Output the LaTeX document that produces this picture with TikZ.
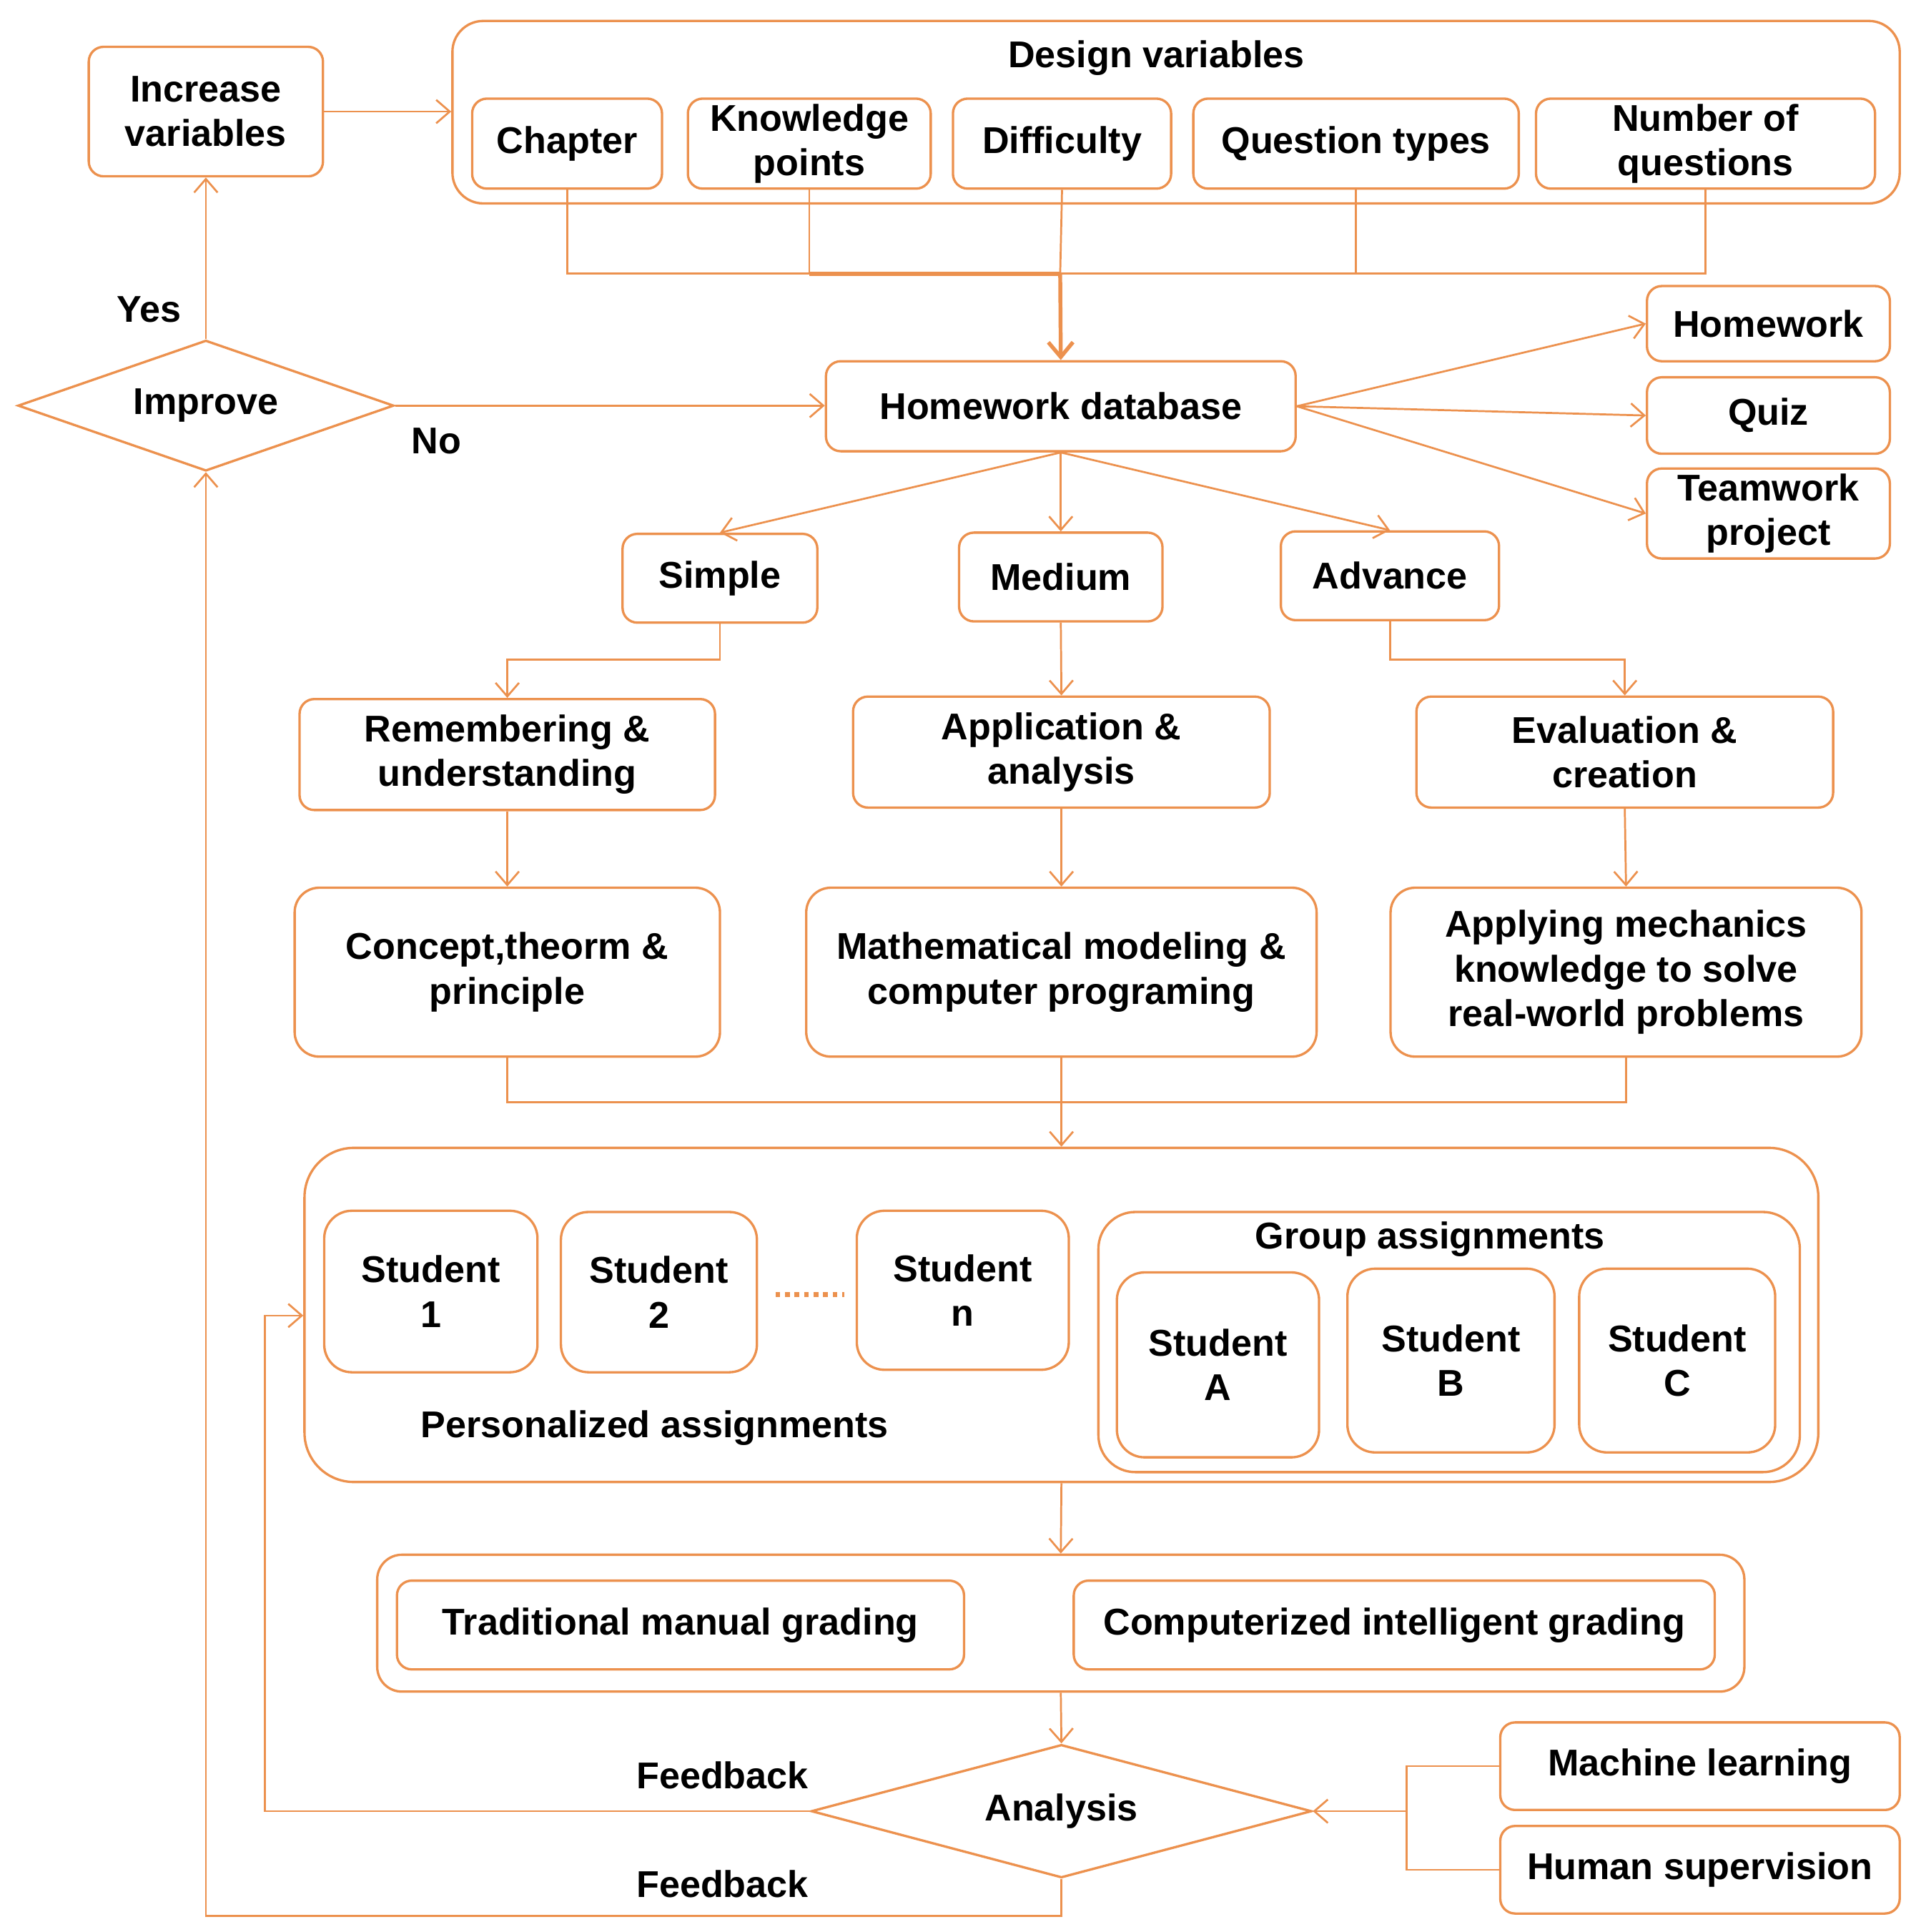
\documentclass[tikz,border=0pt]{standalone}
\usepackage{fontspec}
\setmainfont{Liberation Sans}
\usetikzlibrary{arrows.meta,shapes.geometric,calc}
\definecolor{org}{RGB}{236,145,78}
\tikzset{
  txt/.style={font=\fontsize{17.2}{20.6}\selectfont\bfseries, text=black},
  box/.style={txt, draw=org, line width=1.1pt, rounded corners=0.24cm, align=center, inner sep=0pt},
  ln/.style={draw=org, line width=0.9pt},
  thickln/.style={draw=org, line width=1.8pt},
  arr/.style={ln, -{Straight Barb[length=0.22cm,width=0.38cm]}},
  thickarr/.style={thickln, -{Straight Barb[length=0.24cm,width=0.4cm]}},
  lbl/.style={txt, inner sep=0pt, align=center},
  dia/.style={txt, diamond, draw=org, line width=1.1pt, inner sep=0pt},
  dots/.style={draw=org, line width=2.2pt, dash pattern=on 2.2pt off 2.2pt}
}
\newcommand\flbox[7][]{\node[box,#1,minimum width={(#4-#2)*0.02cm},minimum height={(#5-#3)*0.02cm}] (#6) at ({(#2+#4)/2},{(#3+#5)/2}) {#7};}
\begin{document}
\begin{tikzpicture}[x=0.02cm,y=-0.02cm]
\useasboundingbox (0,0) rectangle (1554,1567);
% top
\flbox{72}{38}{262}{143}{incr}{Increase\\variables}
\flbox[rounded corners=0.5cm]{367}{17}{1541}{165}{design}{}
\node[lbl] (dvt) at (938,47) {Design variables};
\flbox{383}{80}{537}{153}{chap}{Chapter}
\flbox{558}{80}{755}{153}{kp}{Knowledge\\points}
\flbox{773}{80}{950}{153}{diff}{Difficulty}
\flbox{968}{80}{1232}{153}{qt}{Question types}
\flbox{1246}{80}{1521}{153}{nq}{Number of\\questions}
\flbox{670}{293}{1051}{366}{hwdb}{Homework database}
\node[dia, aspect=2.9, minimum width=6.1cm, minimum height=2.12cm] (imp) at (167,329) {Improve};
\node[lbl] (yes) at (121,251) {Yes};
\node[lbl] (no) at (354,358) {No};
\flbox{1336}{232}{1533}{293}{hw}{Homework}
\flbox{1336}{306}{1533}{368}{quiz}{Quiz}
\flbox{1336}{380}{1533}{453}{team}{Teamwork\\project}
% levels
\flbox{505}{433}{663}{505}{simple}{Simple}
\flbox{778}{432}{943}{504}{medium}{Medium}
\flbox{1039}{431}{1216}{503}{adv}{Advance}
\flbox{243}{567}{580}{657}{rem}{Remembering \&\\understanding}
\flbox{692}{565}{1030}{655}{app}{Application \&\\analysis}
\flbox{1149}{565}{1487}{655}{eval}{Evaluation \&\\creation}
\flbox[rounded corners=0.4cm]{239}{720}{584}{857}{concept}{Concept,theorm \&\\principle}
\flbox[rounded corners=0.4cm]{654}{720}{1068}{857}{math}{Mathematical modeling \&\\computer programing}
\flbox[rounded corners=0.4cm]{1128}{720}{1510}{857}{apply}{Applying mechanics\\knowledge to solve\\real-world problems}
% assignments
\flbox[rounded corners=0.8cm]{247}{931}{1475}{1202}{big}{}
\flbox[rounded corners=0.45cm]{263}{982}{436}{1113}{s1}{Student\\1}
\flbox[rounded corners=0.45cm]{455}{983}{614}{1113}{s2}{Student\\2}
\flbox[rounded corners=0.45cm]{695}{982}{867}{1111}{sn}{Student\\n}
\coordinate (d1) at (629,1050);
\coordinate (d2) at (685,1050);
\draw[dots] (d1) -- (d2);
\node[lbl] (pa) at (531,1158) {Personalized assignments};
\flbox[rounded corners=0.6cm]{891}{983}{1460}{1194}{group}{}
\node[lbl] (gt) at (1160,1005) {Group assignments};
\flbox[rounded corners=0.45cm]{906}{1032}{1070}{1182}{sa}{Student\\A}
\flbox[rounded corners=0.45cm]{1093}{1029}{1261}{1178}{sb}{Student\\B}
\flbox[rounded corners=0.45cm]{1281}{1029}{1440}{1178}{sc}{Student\\C}
% grading
\flbox[rounded corners=0.4cm]{306}{1261}{1415}{1372}{grading}{}
\flbox{322}{1282}{782}{1354}{trad}{Traditional manual grading}
\flbox{871}{1282}{1391}{1354}{comp}{Computerized intelligent grading}
\node[dia, aspect=3.76, minimum width=8.12cm, minimum height=2.16cm] (ana) at (861,1469) {Analysis};
\flbox{1217}{1397}{1541}{1468}{ml}{Machine learning}
\flbox{1217}{1481}{1541}{1552}{hs}{Human supervision}
\node[lbl] (fb1) at (586,1440) {Feedback};
\node[lbl] (fb2) at (586,1528) {Feedback};
% helper coordinates
\coordinate (bus) at (860,222);
\coordinate (r1) at (860,535);
\coordinate (r2) at (860,894);
\coordinate (r3) at (1141,1469);
\coordinate (f1) at (215,1067);
\coordinate (f2) at (167,1554);
% connectors top
\draw[arr] (incr.east) -- (incr.east -| design.west);
\draw[ln] (chap.south) -- (chap.south |- bus) -- (nq.south |- bus) -- (nq.south);
\draw[ln] (qt.south) -- (qt.south |- bus);
\draw[ln] (diff.south) -- (bus);
\draw[ln] (kp.south) -- (kp.south |- bus);
\draw[thickln] (kp.south |- bus) -- (bus);
\draw[thickarr] (bus) -- (hwdb.north);
\draw[arr] (imp.north) -- (incr.south);
\draw[arr] (imp.east) -- (imp.east -| hwdb.west);
\draw[arr] (hwdb.east) -- (hw.west);
\draw[arr] (hwdb.east) -- (quiz.west);
\draw[arr] (hwdb.east) -- (team.west);
\draw[arr] (hwdb.south) -- (simple.north);
\draw[arr] (hwdb.south) -- (medium.north);
\draw[arr] (hwdb.south) -- (adv.north);
\draw[arr] (simple.south) -- (simple.south |- r1) -| (rem.north);
\draw[arr] (medium.south) -- (app.north);
\draw[arr] (adv.south) -- (adv.south |- r1) -| (eval.north);
\draw[arr] (rem.south) -- (concept.north);
\draw[arr] (app.south) -- (math.north);
\draw[arr] (eval.south) -- (apply.north);
\draw[ln] (concept.south) -- (concept.south |- r2) -- (apply.south |- r2) -- (apply.south);
\draw[arr] (math.south) -- (big.north);
\draw[arr] (big.south) -- (grading.north);
\draw[arr] (grading.south) -- (ana.north);
\draw[ln] (ml.west) -- (ml.west -| r3) -- (hs.west -| r3) -- (hs.west);
\draw[arr] (r3) -- (ana.east);
\draw[arr] (ana.west) -- (ana.west -| f1) -- (f1) -- (f1 -| big.west);
\draw[arr] (ana.south) -- (ana.south |- f2) -- (f2) -- (imp.south);
\end{tikzpicture}
\end{document}
